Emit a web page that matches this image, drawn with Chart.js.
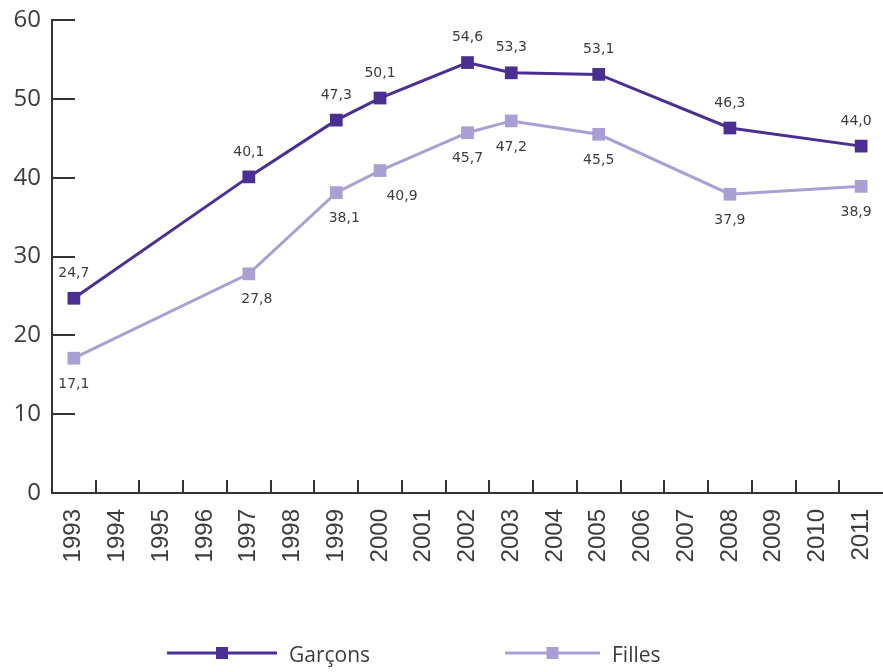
<!DOCTYPE html>
<html>
<head>
<meta charset="utf-8">
<script src="https://cdn.jsdelivr.net/npm/chart.js@4.4.0/dist/chart.umd.min.js"></script>
<style>
  body { margin: 0; background: #fff; }
  canvas { display: block; }
</style>
</head>
<body>
<canvas id="graph" width="883" height="672"></canvas>
<script>
// Données
const annees = ['1993', '1994', '1995', '1996', '1997', '1998', '1999', '2000', '2001', '2002',
  '2003', '2004', '2005', '2006', '2007', '2008', '2009', '2010', '2011'];
const garcons = [24.7, null, null, null, 40.1, null, 47.3, 50.1, null, 54.6,
  53.3, null, 53.1, null, null, 46.3, null, null, 44.0];
const filles = [17.1, null, null, null, 27.8, null, 38.1, 40.9, null, 45.7,
  47.2, null, 45.5, null, null, 37.9, null, null, 38.9];
const graduationsY = [0, 10, 20, 30, 40, 50, 60];

const violetFonce = '#4b2e92';
const violetClair = '#aa9fd2';
const gris = '#333333';

// pas de marges automatiques autour des axes
function sansPadding(scale) {
  scale.paddingLeft = 0;
  scale.paddingRight = 0;
  scale.paddingTop = 0;
  scale.paddingBottom = 0;
}

// Etiquettes de valeurs + petites graduations + légende
const decorPlugin = {
  id: 'decor',
  afterDatasetsDraw(chart) {
    const ctx = chart.ctx;
    const x = chart.scales.x;
    const y = chart.scales.y;
    const area = chart.chartArea;

    ctx.save();
    ctx.strokeStyle = gris;
    ctx.lineWidth = 2;
    // graduations Y (vers l'intérieur)
    graduationsY.forEach(v => {
      if (v === 0) return;
      const py = Math.round(y.getPixelForValue(v));
      ctx.beginPath();
      ctx.moveTo(area.left, py);
      ctx.lineTo(area.left + 23, py);
      ctx.stroke();
    });
    // graduations X entre les années
    for (let i = 1; i < annees.length; i++) {
      const px = Math.round((x.getPixelForValue(i - 1) + x.getPixelForValue(i)) / 2);
      ctx.beginPath();
      ctx.moveTo(px, area.bottom);
      ctx.lineTo(px, area.bottom - 13);
      ctx.stroke();
    }

    // valeurs
    ctx.font = '14px "DejaVu Sans"';
    ctx.fillStyle = '#3c3c3c';
    ctx.textAlign = 'center';
    ctx.textBaseline = 'middle';
    chart.data.datasets.forEach((ds, d) => {
      const meta = chart.getDatasetMeta(d);
      ds.data.forEach((v, i) => {
        if (v === null) return;
        const pt = meta.data[i];
        const txt = v.toFixed(1).replace('.', ',');
        const dy = d === 0 ? -25 : 26;
        let dx = 0;
        if (d === 1 && annees[i] === '2000') dx = 22;
        if (d === 1 && (annees[i] === '1997' || annees[i] === '1999')) dx = 8;
        if (annees[i] === '2011') dx = -5;
        ctx.fillText(txt, pt.x + dx, pt.y + dy);
      });
    });

    // légende
    const entrees = [
      { nom: 'Garçons', couleur: violetFonce, x1: 167, x2: 277 },
      { nom: 'Filles', couleur: violetClair, x1: 505, x2: 600 }
    ];
    const ly = 653;
    ctx.font = '21px "Open Sans"';
    ctx.textAlign = 'left';
    entrees.forEach(e => {
      ctx.strokeStyle = e.couleur;
      ctx.lineWidth = 3;
      ctx.beginPath();
      ctx.moveTo(e.x1, ly);
      ctx.lineTo(e.x2, ly);
      ctx.stroke();
      const cx = (e.x1 + e.x2) / 2;
      ctx.fillStyle = e.couleur;
      ctx.fillRect(cx - 6, ly - 6, 12, 12);
      ctx.fillStyle = '#3c3c3c';
      ctx.fillText(e.nom, e.x2 + 12, ly + 3);
    });
    ctx.restore();
  }
};

new Chart(document.getElementById('graph'), {
  type: 'line',
  data: {
    labels: annees,
    datasets: [
      {
        label: 'Garçons',
        data: garcons,
        borderColor: violetFonce,
        backgroundColor: violetFonce,
        borderWidth: 3,
        pointStyle: 'rect',
        pointRadius: 9,
        pointBorderWidth: 0,
        spanGaps: true,
        tension: 0
      },
      {
        label: 'Filles',
        data: filles,
        borderColor: violetClair,
        backgroundColor: violetClair,
        borderWidth: 3,
        pointStyle: 'rect',
        pointRadius: 9,
        pointBorderWidth: 0,
        spanGaps: true,
        tension: 0
      }
    ]
  },
  options: {
    responsive: false,
    animation: false,
    layout: { autoPadding: false, padding: { top: 20, right: -9, left: 0, bottom: 0 } },
    plugins: {
      legend: { display: false },
      tooltip: { enabled: false }
    },
    scales: {
      x: {
        type: 'category',
        offset: true,
        grid: { display: false, drawTicks: false },
        border: { display: true, color: gris, width: 2 },
        ticks: {
          autoSkip: false,
          minRotation: 90,
          maxRotation: 90,
          padding: 16,
          color: '#3c3c3c',
          font: { family: '"Liberation Sans"', size: 24 }
        },
        afterFit(scale) {
          scale.height = 179;
          sansPadding(scale);
        }
      },
      y: {
        min: 0,
        max: 60,
        grid: { display: false, drawTicks: false },
        border: { display: true, color: gris, width: 2 },
        afterBuildTicks(scale) { scale.ticks = graduationsY.map(v => ({ value: v })); },
        ticks: {
          padding: 11,
          color: '#3c3c3c',
          font: { family: '"Open Sans"', size: 24 }
        },
        afterFit(scale) {
          scale.width = 52;
          sansPadding(scale);
        }
      }
    }
  },
  plugins: [decorPlugin]
});
</script>
</body>
</html>
